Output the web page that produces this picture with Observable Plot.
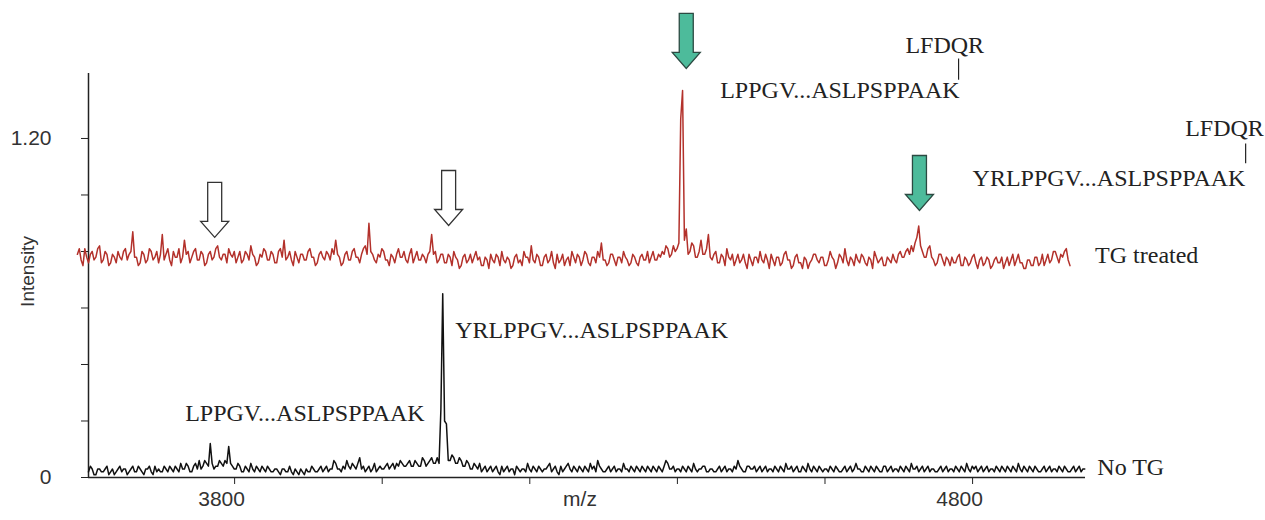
<!DOCTYPE html>
<html>
<head>
<meta charset="utf-8">
<script src="https://cdn.jsdelivr.net/npm/d3@7"></script>
<script src="https://cdn.jsdelivr.net/npm/@observablehq/plot@0.6"></script>
<style>
  body { margin: 0; background: #fff; }
  g[aria-label="peptide labels"] text { letter-spacing: 0.8px; }
</style>
</head>
<body>
<div id="chart"></div>
<script>
// ---- data ----
// m/z sampling grid of the two traces
const tgStartMz = 3587, noTgStartMz = 3602, mzStep = 2.5;

// TG treated trace (red), intensity
const tgTreated = [
0.79,0.81,0.77,0.75,0.81,0.78,0.76,0.79,0.80,0.77,0.78,0.81,0.82,0.76,0.77,0.80,0.79,0.75,0.76,0.79,
0.78,0.76,0.80,0.78,0.77,0.80,0.81,0.77,0.79,0.80,0.87,0.78,0.78,0.75,0.76,0.80,0.79,0.76,0.77,0.81,
0.80,0.77,0.78,0.80,0.76,0.79,0.86,0.77,0.79,0.81,0.77,0.75,0.80,0.78,0.78,0.81,0.76,0.78,0.84,0.79,
0.80,0.76,0.78,0.80,0.81,0.77,0.77,0.80,0.79,0.75,0.76,0.79,0.80,0.77,0.78,0.81,0.82,0.78,0.77,0.79,
0.79,0.76,0.81,0.79,0.78,0.80,0.76,0.78,0.80,0.76,0.77,0.80,0.79,0.77,0.82,0.79,0.78,0.75,0.76,0.79,
0.78,0.81,0.80,0.77,0.77,0.80,0.79,0.76,0.76,0.80,0.81,0.78,0.84,0.77,0.78,0.80,0.77,0.75,0.80,0.78,
0.76,0.79,0.79,0.77,0.77,0.80,0.81,0.78,0.78,0.75,0.76,0.79,0.80,0.78,0.77,0.80,0.79,0.77,0.81,0.79,
0.84,0.79,0.78,0.75,0.76,0.79,0.80,0.77,0.77,0.80,0.81,0.78,0.78,0.76,0.79,0.81,0.82,0.79,0.90,0.80,
0.79,0.77,0.76,0.79,0.78,0.81,0.80,0.77,0.77,0.75,0.79,0.78,0.76,0.79,0.81,0.78,0.78,0.80,0.77,0.76,
0.79,0.81,0.76,0.78,0.80,0.77,0.77,0.79,0.78,0.76,0.79,0.80,0.86,0.79,0.80,0.76,0.77,0.79,0.79,0.76,
0.76,0.79,0.78,0.75,0.80,0.78,0.77,0.74,0.75,0.78,0.79,0.76,0.77,0.79,0.76,0.78,0.80,0.77,0.78,0.75,
0.75,0.78,0.77,0.74,0.79,0.77,0.76,0.79,0.78,0.75,0.80,0.77,0.76,0.78,0.77,0.74,0.75,0.78,0.79,0.76,
0.77,0.75,0.80,0.78,0.78,0.76,0.82,0.77,0.76,0.79,0.78,0.75,0.75,0.78,0.79,0.76,0.77,0.80,0.76,0.74,
0.79,0.76,0.77,0.79,0.75,0.77,0.78,0.75,0.80,0.78,0.76,0.79,0.78,0.75,0.77,0.80,0.79,0.76,0.75,0.78,
0.78,0.76,0.80,0.78,0.83,0.77,0.77,0.75,0.76,0.79,0.79,0.77,0.75,0.78,0.78,0.76,0.80,0.78,0.77,0.75,
0.76,0.79,0.78,0.76,0.75,0.78,0.79,0.77,0.77,0.80,0.76,0.78,0.80,0.77,0.77,0.79,0.78,0.80,0.79,0.82,
0.81,0.78,0.79,0.82,0.80,0.81,0.83,1.27,1.37,0.84,0.88,0.79,0.80,0.83,0.82,0.78,0.78,0.80,0.84,0.79,
0.79,0.81,0.86,0.78,0.77,0.79,0.80,0.76,0.76,0.79,0.78,0.75,0.81,0.78,0.77,0.79,0.75,0.77,0.79,0.76,
0.77,0.79,0.76,0.74,0.79,0.77,0.75,0.78,0.78,0.76,0.80,0.77,0.76,0.79,0.77,0.74,0.79,0.77,0.75,0.78,
0.78,0.75,0.76,0.79,0.80,0.77,0.77,0.74,0.75,0.78,0.79,0.76,0.76,0.74,0.78,0.77,0.74,0.76,0.77,0.79,
0.79,0.77,0.76,0.78,0.78,0.75,0.75,0.77,0.80,0.78,0.77,0.74,0.76,0.79,0.78,0.76,0.81,0.77,0.75,0.78,
0.77,0.75,0.79,0.77,0.76,0.79,0.78,0.76,0.75,0.78,0.77,0.74,0.80,0.78,0.76,0.77,0.78,0.75,0.75,0.78,
0.77,0.76,0.79,0.77,0.76,0.79,0.80,0.78,0.78,0.80,0.81,0.79,0.82,0.80,0.83,0.85,0.89,0.82,0.80,0.78,
0.78,0.81,0.82,0.78,0.77,0.75,0.76,0.79,0.79,0.77,0.75,0.78,0.77,0.75,0.78,0.76,0.76,0.78,0.79,0.75,
0.75,0.78,0.77,0.75,0.76,0.78,0.79,0.76,0.74,0.77,0.78,0.75,0.76,0.78,0.77,0.74,0.75,0.77,0.78,0.76,
0.76,0.78,0.74,0.76,0.78,0.75,0.77,0.79,0.75,0.77,0.79,0.76,0.76,0.74,0.74,0.77,0.77,0.75,0.75,0.78,
0.78,0.75,0.76,0.79,0.75,0.77,0.79,0.76,0.77,0.80,0.80,0.78,0.76,0.79,0.78,0.80,0.81,0.77,0.75
];

// No TG trace (black), intensity
const noTG = [
0.02,0.04,0.03,0.01,0.01,0.03,0.03,0.02,0.02,0.03,0.04,0.01,0.02,0.03,0.01,0.02,0.03,0.04,0.02,0.03,
0.03,0.01,0.02,0.03,0.04,0.02,0.02,0.04,0.03,0.02,0.01,0.03,0.03,0.04,0.02,0.01,0.04,0.02,0.03,0.02,
0.02,0.04,0.03,0.02,0.04,0.03,0.02,0.04,0.03,0.02,0.05,0.03,0.03,0.05,0.04,0.02,0.02,0.04,0.05,0.03,
0.06,0.03,0.04,0.06,0.05,0.04,0.12,0.05,0.03,0.04,0.04,0.06,0.05,0.04,0.06,0.05,0.11,0.05,0.04,0.03,
0.03,0.05,0.04,0.02,0.02,0.04,0.03,0.02,0.05,0.03,0.02,0.04,0.03,0.02,0.04,0.03,0.02,0.04,0.03,0.02,
0.02,0.03,0.03,0.02,0.01,0.03,0.03,0.02,0.02,0.04,0.02,0.01,0.03,0.02,0.01,0.03,0.02,0.01,0.03,0.02,
0.02,0.04,0.03,0.02,0.02,0.03,0.04,0.02,0.03,0.04,0.02,0.03,0.03,0.06,0.05,0.03,0.03,0.02,0.04,0.03,
0.06,0.04,0.03,0.05,0.04,0.03,0.05,0.07,0.03,0.04,0.02,0.03,0.04,0.02,0.03,0.05,0.02,0.03,0.04,0.03,
0.03,0.04,0.05,0.03,0.04,0.05,0.03,0.05,0.04,0.06,0.05,0.04,0.04,0.05,0.06,0.04,0.04,0.06,0.05,0.04,
0.04,0.07,0.06,0.04,0.05,0.06,0.07,0.05,0.05,0.07,0.05,0.24,0.65,0.20,0.19,0.06,0.06,0.08,0.07,0.05,
0.05,0.07,0.06,0.04,0.04,0.06,0.05,0.03,0.03,0.05,0.04,0.03,0.05,0.02,0.03,0.04,0.02,0.03,0.04,0.02,
0.03,0.04,0.02,0.01,0.04,0.02,0.03,0.04,0.02,0.03,0.03,0.01,0.04,0.03,0.02,0.03,0.03,0.02,0.05,0.03,
0.02,0.04,0.03,0.02,0.04,0.03,0.02,0.03,0.03,0.04,0.05,0.02,0.03,0.04,0.02,0.01,0.04,0.02,0.03,0.04,
0.05,0.03,0.02,0.04,0.03,0.02,0.04,0.03,0.02,0.04,0.03,0.02,0.05,0.03,0.04,0.02,0.06,0.04,0.03,0.02,
0.02,0.03,0.04,0.02,0.03,0.04,0.02,0.03,0.03,0.02,0.05,0.03,0.03,0.02,0.04,0.03,0.02,0.04,0.03,0.02,
0.04,0.03,0.02,0.04,0.03,0.02,0.04,0.03,0.02,0.04,0.03,0.02,0.04,0.06,0.05,0.03,0.03,0.04,0.02,0.03,
0.03,0.02,0.04,0.03,0.02,0.04,0.03,0.02,0.05,0.03,0.02,0.03,0.03,0.04,0.04,0.02,0.02,0.03,0.03,0.02,
0.02,0.03,0.04,0.02,0.03,0.04,0.02,0.03,0.03,0.02,0.04,0.03,0.06,0.04,0.03,0.02,0.02,0.04,0.04,0.03,
0.03,0.04,0.02,0.03,0.04,0.02,0.03,0.04,0.02,0.03,0.03,0.02,0.04,0.03,0.02,0.04,0.03,0.02,0.05,0.03,
0.03,0.04,0.02,0.03,0.04,0.02,0.02,0.04,0.03,0.02,0.05,0.03,0.02,0.04,0.03,0.02,0.04,0.03,0.02,0.03,
0.03,0.02,0.04,0.03,0.02,0.04,0.03,0.02,0.02,0.03,0.04,0.02,0.03,0.04,0.02,0.03,0.05,0.03,0.03,0.02,
0.02,0.04,0.03,0.02,0.04,0.03,0.02,0.04,0.03,0.02,0.02,0.04,0.04,0.02,0.03,0.04,0.02,0.03,0.03,0.02,
0.04,0.03,0.02,0.04,0.03,0.02,0.05,0.03,0.03,0.04,0.02,0.03,0.04,0.02,0.03,0.04,0.02,0.03,0.03,0.02,
0.02,0.03,0.04,0.02,0.03,0.04,0.02,0.03,0.03,0.02,0.04,0.03,0.02,0.04,0.03,0.02,0.05,0.03,0.02,0.04,
0.03,0.04,0.02,0.03,0.04,0.02,0.03,0.04,0.02,0.03,0.03,0.02,0.04,0.03,0.02,0.04,0.03,0.02,0.04,0.03,
0.02,0.04,0.03,0.02,0.05,0.03,0.02,0.04,0.03,0.02,0.04,0.03,0.02,0.04,0.03,0.02,0.02,0.03,0.04,0.02,
0.03,0.04,0.02,0.03,0.03,0.02,0.04,0.03,0.02,0.04,0.03,0.02,0.02,0.03,0.04,0.02,0.03,0.04,0.02,0.03,
0.03
];

// axes
const xDomain = [3602, 4953];
const yDomain = [0, 1.43];
const xTicks = [3800, 4000, 4200, 4400, 4600, 4800];
const xTickLabels = [3800, 4800];
const yTicks = [0, 0.2, 0.4, 0.6, 0.8, 1.0, 1.2];
const yTickLabels = [0, 1.2];

// arrows (tip position in m/z, intensity)
const openArrowMz = [3773, 4090];
const openArrowY = [0.85, 0.892];
const greenArrowMz = [4412, 4728];
const greenArrowY = [1.448, 0.945];

// peptide labels
const labelText = ["LFDQR", "LPPGV...ASLPSPPAAK", "LFDQR", "YRLPPGV...ASLPSPPAAK",
                   "TG treated", "YRLPPGV...ASLPSPPAAK", "LPPGV...ASLPSPPAAK", "No TG"];
const labelMz = [4709, 4458, 5088, 4800, 4966, 4099, 3733, 4969];
const labelY = [1.529, 1.370, 1.235, 1.058, 0.786, 0.52, 0.227, 0.035];

// LFDQR bond connectors
const connMz = [4781, 5170];
const connY1 = [1.483, 1.182];
const connY2 = [1.408, 1.112];

// ---- build tables ----
const tgData = tgTreated.map((v, i) => ({mz: tgStartMz + i * mzStep, v}));
const noTgData = noTG.map((v, i) => ({mz: noTgStartMz + i * mzStep, v}));
const openArrows = openArrowMz.map((mz, i) => ({mz, y: openArrowY[i]}));
const greenArrows = greenArrowMz.map((mz, i) => ({mz, y: greenArrowY[i]}));
const labels = labelText.map((t, i) => ({t, mz: labelMz[i], y: labelY[i]}));
const connectors = connMz.map((mz, i) => ({mz, y1: connY1[i], y2: connY2[i]}));

// down-pointing block arrow, tip at the anchor point
const arrowSymbol = {
  draw(ctx) {
    ctx.moveTo(-7, -55);
    ctx.lineTo(7, -55);
    ctx.lineTo(7, -16);
    ctx.lineTo(14, -16);
    ctx.lineTo(0, 0);
    ctx.lineTo(-14, -16);
    ctx.lineTo(-7, -16);
    ctx.closePath();
  }
};

const chart = Plot.plot({
  width: 1265,
  height: 520,
  marginLeft: 88,
  marginRight: 180,
  marginTop: 73,
  marginBottom: 43,
  x: {domain: xDomain},
  y: {domain: yDomain},
  style: {fontFamily: "Liberation Sans, Arial, sans-serif", fontSize: "20px", color: "#333", background: "#fff", overflow: "visible"},
  marks: [
    Plot.axisY({ticks: yTicks, tickSize: 7, tickFormat: () => "", label: null, stroke: "#222"}),
    Plot.axisX({ticks: xTicks, tickSize: 7, tickFormat: () => "", label: null, stroke: "#222"}),
    Plot.ruleX([xDomain[0]], {stroke: "#222", strokeWidth: 1.5}),
    Plot.ruleY([0], {stroke: "#222", strokeWidth: 1.5}),
    Plot.text(yTickLabels, {y: d => d, text: d => d === 0 ? "0" : d.toFixed(2), frameAnchor: "left", textAnchor: "end", dx: -37, fontSize: 21, fill: "#333"}),
    Plot.text(xTickLabels, {x: d => d, text: d => String(d), frameAnchor: "bottom", dy: 28, dx: -13, fontSize: 21, fill: "#333"}),
    Plot.text(["m/z"], {frameAnchor: "bottom", dy: 28, dx: -7, fontSize: 21, fill: "#333"}),
    Plot.text(["Intensity"], {frameAnchor: "left", textAnchor: "middle", rotate: -90, dx: -61, dy: -4, fontSize: 19, fill: "#333"}),
    Plot.line(tgData, {x: "mz", y: "v", stroke: "#b3312b", strokeWidth: 1.5}),
    Plot.line(noTgData, {x: "mz", y: "v", stroke: "#111", strokeWidth: 1.5}),
    Plot.dot(openArrows, {x: "mz", y: "y", symbol: arrowSymbol, fill: "#fff", stroke: "#333", strokeWidth: 1.3}),
    Plot.dot(greenArrows, {x: "mz", y: "y", symbol: arrowSymbol, fill: "#4dbb9b", stroke: "#2c4a42", strokeWidth: 1.3}),
    Plot.link(connectors, {x1: "mz", x2: "mz", y1: "y1", y2: "y2", stroke: "#222", strokeWidth: 1.2}),
    Plot.text(labels, {x: "mz", y: "y", text: "t", textAnchor: "start", fontFamily: "Liberation Serif, Times New Roman, serif", fontSize: 24, fill: "#222", ariaLabel: "peptide labels"})
  ]
});
document.getElementById("chart").appendChild(chart);
</script>
</body>
</html>
